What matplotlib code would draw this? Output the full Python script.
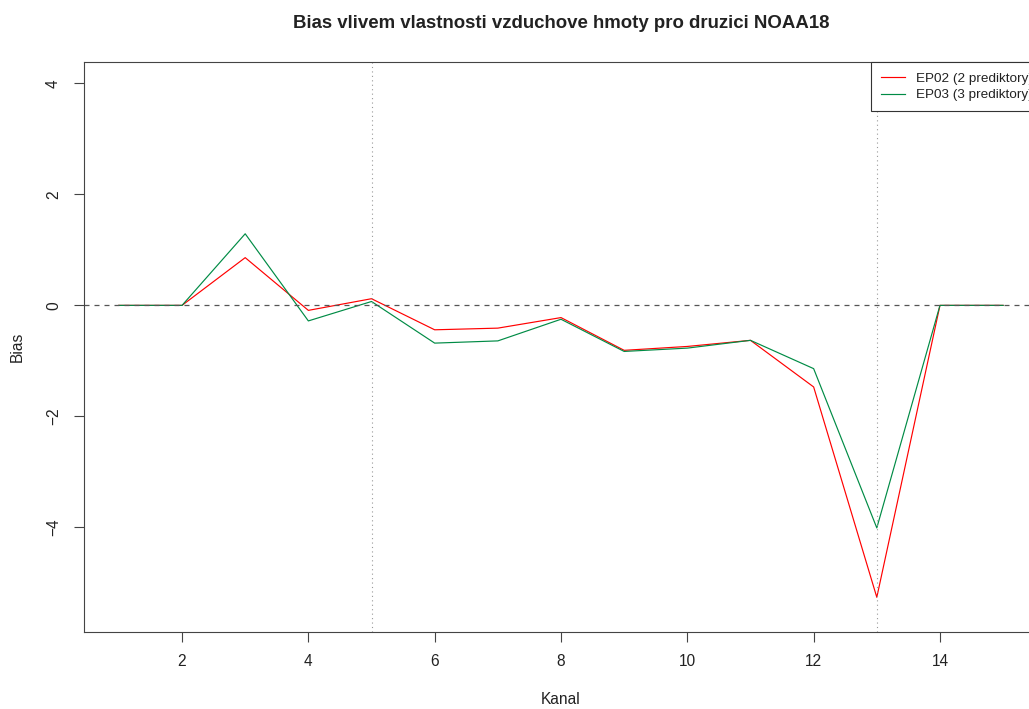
import matplotlib
matplotlib.use("Agg")
import matplotlib.pyplot as plt

plt.rcParams['font.family'] = ['Liberation Sans', 'DejaVu Sans']

channels = list(range(1, 16))
ep02 = [0.0, 0.0, 0.86, -0.09, 0.12, -0.44, -0.41, -0.22, -0.81, -0.74, -0.63, -1.47, -5.26, 0.0, 0.0]
ep03 = [0.0, 0.0, 1.29, -0.28, 0.07, -0.68, -0.64, -0.25, -0.83, -0.77, -0.63, -1.14, -4.01, 0.0, 0.0]
labels = ["EP02 (2 prediktory)", "EP03 (3 prediktory)"]
colors = ["#FF0000", "#008B45"]
vlines_at = [5, 13]
xticks = [2, 4, 6, 8, 10, 12, 14]
yticks = [-4, -2, 0, 2, 4]
title = "Bias vlivem vlastnosti vzduchove hmoty pro druzici NOAA18"

W, H = 1029, 709
fig = plt.figure(figsize=(W / 100, H / 100), dpi=100)
left, right, top, bottom = 83.5, 1038.5, 62.3, 631.7
ax = fig.add_axes([left / W, 1 - bottom / H, (right - left) / W, (bottom - top) / H])

ax.plot(channels, ep02, color=colors[0], lw=0.85, label=labels[0])
ax.plot(channels, ep03, color=colors[1], lw=0.85, label=labels[1])
ax.axhline(0, color="#555555", lw=0.9, linestyle=(0, (4, 4)))
for v in vlines_at:
    ax.axvline(v, color="#999999", lw=0.8, linestyle=(0, (1, 3)))

ax.set_xlim(0.44, 15.56)
ax.set_ylim(-5.88, 4.38)
ax.set_xticks(xticks)
ax.set_yticks(yticks)
ax.set_yticklabels([str(t).replace('-', '\u2212') for t in yticks], rotation=90, va='center')
ax.tick_params(axis='both', direction='out', length=7.2, width=0.8, color='#444444',
               labelsize=11.2, labelcolor='#222222')
ax.tick_params(axis='x', pad=9.2)
ax.tick_params(axis='y', pad=9)
for s in ax.spines.values():
    s.set_color('#444444')
    s.set_linewidth(0.8)

ax.set_xlabel("Kanal", fontsize=11.2, color='#222222', va='center')
ax.xaxis.set_label_coords(0.5, -(700 - bottom) / (bottom - top))
ax.set_ylabel("Bias", fontsize=11.2, color='#222222', va='center')
ax.yaxis.set_label_coords(-(left - 17) / (right - left), 0.5)

ax.set_title(title, fontsize=13.4, fontweight='bold', color='#222222',
             y=1 + (top - 24) / (bottom - top), va='center', pad=0)

leg = ax.legend(loc='upper right', bbox_to_anchor=(1 + 4 / (right - left), 1), borderaxespad=0,
                fancybox=False, framealpha=1, edgecolor='#333333', fontsize=9.7,
                handlelength=1.75, handletextpad=0.8, labelspacing=0.32, borderpad=0.73)
leg.get_frame().set_linewidth(0.8)
for t in leg.get_texts():
    t.set_color('#222222')

fig.savefig("out.png", dpi=100)
